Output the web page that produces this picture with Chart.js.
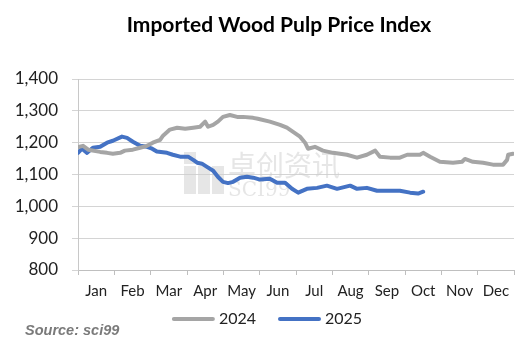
<!DOCTYPE html>
<html lang="en">
<head>
    <meta charset="UTF-8">
    <title>Imported Wood Pulp Price Index</title>
    <script src="https://cdn.jsdelivr.net/npm/chart.js"></script>
    <style>
        body, html {
            margin: 0;
            padding: 0;
            background: #ffffff;
        }
        #wrap {
            width: 530px;
            height: 347px;
        }
    </style>
</head>
<body>
    <div id="wrap"><canvas id="chart"></canvas></div>

    <script>
        // Month labels, drawn between the month tick marks
        const months = ['Jan', 'Feb', 'Mar', 'Apr', 'May', 'Jun', 'Jul', 'Aug', 'Sep', 'Oct', 'Nov', 'Dec'];
        const yTicks = [800, 900, 1000, 1100, 1200, 1300, 1400];

        // Position along the year in months (0 = 1 Jan, 12 = 31 Dec) and index values
        const pos2024 = [0.00, 0.14, 0.28, 0.61, 0.80, 0.96, 1.16, 1.29, 1.51, 1.71, 1.90, 2.06, 2.26, 2.34, 2.53, 2.73,
            2.95, 3.17, 3.36, 3.50, 3.58, 3.72, 3.85, 3.99, 4.18, 4.38, 4.54, 4.82, 4.95, 5.28, 5.56, 5.75, 5.92, 6.11,
            6.25, 6.33, 6.52, 6.74, 7.02, 7.40, 7.68, 7.95, 8.18, 8.31, 8.59, 8.86, 9.06, 9.41, 9.50, 9.69, 9.96, 10.32,
            10.57, 10.65, 10.87, 11.15, 11.42, 11.70, 11.81, 11.84, 11.97];
        const val2024 = [1186, 1190, 1178, 1171, 1168, 1165, 1168, 1175, 1178, 1184, 1190, 1200, 1209, 1222, 1241, 1247,
            1244, 1247, 1250, 1266, 1250, 1256, 1266, 1281, 1287, 1281, 1281, 1278, 1275, 1266, 1256, 1247, 1234, 1219,
            1200, 1181, 1187, 1175, 1168, 1162, 1153, 1162, 1175, 1156, 1153, 1153, 1162, 1162, 1168, 1156, 1140, 1137,
            1140, 1149, 1140, 1137, 1131, 1131, 1146, 1162, 1165];

        const pos2025 = [0.00, 0.11, 0.25, 0.41, 0.61, 0.80, 0.96, 1.21, 1.35, 1.51, 1.71, 1.90, 2.04, 2.17, 2.45, 2.61,
            2.81, 3.03, 3.17, 3.28, 3.41, 3.55, 3.72, 3.85, 3.99, 4.13, 4.27, 4.46, 4.65, 4.82, 5.01, 5.28, 5.48, 5.70,
            5.89, 6.06, 6.30, 6.58, 6.85, 7.13, 7.49, 7.68, 7.95, 8.23, 8.51, 8.86, 9.14, 9.36, 9.50];
        const val2025 = [1168, 1181, 1168, 1184, 1187, 1200, 1206, 1219, 1215, 1203, 1190, 1187, 1181, 1172, 1168, 1162,
            1156, 1156, 1146, 1137, 1134, 1124, 1112, 1093, 1077, 1073, 1077, 1090, 1093, 1090, 1084, 1087, 1074, 1074,
            1055, 1043, 1055, 1058, 1065, 1055, 1065, 1055, 1058, 1049, 1049, 1049, 1043, 1040, 1046];

        const toPoints = (xs, ys) => xs.map((x, i) => ({ x: x, y: ys[i] }));

        const FONT = 'Lato, "Noto Sans", sans-serif';

        // Title, legend, source note and the faint watermark behind the lines
        const decor = {
            id: 'decor',
            beforeDatasetsDraw(chart) {
                const ctx = chart.ctx;
                ctx.save();
                ctx.fillStyle = 'rgba(205, 205, 205, 0.5)';
                // logo blocks
                ctx.fillRect(184, 152, 12, 12);
                ctx.fillRect(184, 166, 12, 28);
                ctx.fillRect(198, 166, 12, 28);
                ctx.fillRect(212, 166, 12, 28);
                ctx.font = '28px "Noto Sans CJK SC"';
                ctx.textBaseline = 'alphabetic';
                ctx.fillText('卓创资讯', 228, 176);
                ctx.font = '20px "DejaVu Serif"';
                ctx.fillText('SCI99', 228, 196);
                ctx.restore();
            },
            afterDraw(chart) {
                const ctx = chart.ctx;
                ctx.save();
                ctx.fillStyle = '#000000';
                ctx.font = 'bold 21px ' + FONT;
                ctx.textAlign = 'center';
                ctx.textBaseline = 'middle';
                ctx.fillText('Imported Wood Pulp Price Index', 279, 25);

                // legend: line swatch followed by the series name
                const lineLen = 43, gapText = 4, gapItem = 22, legendY = 319;
                ctx.font = '16px ' + FONT;
                const sets = chart.data.datasets;
                const widths = sets.map(ds => lineLen + gapText + ctx.measureText(ds.label).width);
                const total = widths.reduce((a, b) => a + b, 0) + gapItem * (sets.length - 1);
                let x = 267 - total / 2;
                ctx.textAlign = 'left';
                sets.forEach((ds, i) => {
                    ctx.strokeStyle = ds.borderColor;
                    ctx.lineWidth = 4;
                    ctx.lineCap = 'round';
                    ctx.beginPath();
                    ctx.moveTo(x + 2, legendY);
                    ctx.lineTo(x + lineLen - 2, legendY);
                    ctx.stroke();
                    ctx.fillStyle = '#222222';
                    ctx.fillText(ds.label, x + lineLen + gapText, legendY);
                    x += widths[i] + gapItem;
                });

                ctx.fillStyle = '#7a7a7a';
                ctx.font = 'italic bold 14.5px "Liberation Sans", Arial, sans-serif';
                ctx.fillText('Source: sci99', 25, 331);
                ctx.restore();
            }
        };

        new Chart(document.getElementById('chart'), {
            type: 'line',
            data: {
                datasets: [{
                    label: '2024',
                    data: toPoints(pos2024, val2024),
                    borderColor: '#a5a5a5',
                    backgroundColor: '#a5a5a5',
                    borderWidth: 4,
                    borderCapStyle: 'round',
                    borderJoinStyle: 'round',
                    pointRadius: 0,
                    tension: 0
                }, {
                    label: '2025',
                    data: toPoints(pos2025, val2025),
                    borderColor: '#4472c4',
                    backgroundColor: '#4472c4',
                    borderWidth: 4,
                    borderCapStyle: 'round',
                    borderJoinStyle: 'round',
                    pointRadius: 0,
                    tension: 0
                }]
            },
            options: {
                responsive: true,
                maintainAspectRatio: false,
                animation: false,
                layout: {
                    padding: { top: 79, right: 16, bottom: 41, left: 16 }
                },
                plugins: {
                    title: { display: false },
                    tooltip: { enabled: false },
                    legend: { display: false }
                },
                scales: {
                    x: {
                        type: 'linear',
                        min: 0,
                        max: 12,
                        afterFit: function(scale) { scale.height = 36; },
                        grid: {
                            drawOnChartArea: false,
                            drawTicks: true,
                            tickLength: 5,
                            color: '#bfbfbf'
                        },
                        border: { display: true, color: '#bfbfbf' },
                        ticks: {
                            stepSize: 1,
                            autoSkip: false,
                            maxRotation: 0,
                            labelOffset: 18.2,
                            padding: 7,
                            color: '#222222',
                            font: { family: FONT, size: 15 },
                            callback: function(value) { return months[value] || ''; }
                        }
                    },
                    y: {
                        min: 800,
                        max: 1400,
                        afterFit: function(scale) { scale.width = 62; },
                        afterBuildTicks: function(scale) {
                            scale.ticks = yTicks.map(v => ({ value: v }));
                        },
                        grid: {
                            color: '#d4d4d4',
                            tickLength: 6
                        },
                        border: { display: true, color: '#c8c8c8' },
                        ticks: {
                            padding: 14,
                            color: '#222222',
                            font: { family: FONT, size: 17 },
                            callback: function(value) { return value.toLocaleString('en-US'); }
                        }
                    }
                }
            },
            plugins: [decor]
        });
    </script>
</body>
</html>
